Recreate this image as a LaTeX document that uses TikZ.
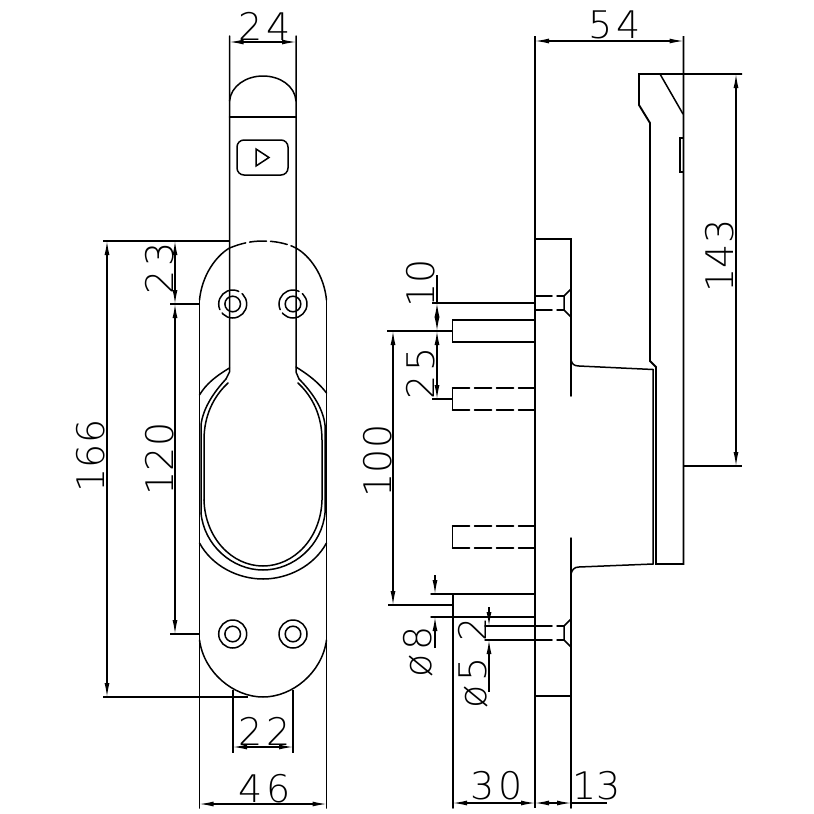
\documentclass[tikz,border=0pt]{standalone}
\usepackage{fontspec}
\setmainfont[LetterSpace=10]{DejaVu Sans ExtraLight}
\usetikzlibrary{arrows.meta}
\tikzset{%
  part/.style    = {line width=1.5pt, line cap=round},%
  thick part/.style = {line width=1.9pt},%
  hidden/.style  = {part, dash pattern=on 17pt off 5pt},%
  dim/.style     = {line width=1.2pt, {Latex[length=14pt,width=5pt]}-{Latex[length=14pt,width=5pt]}},%
  dimout/.style  = {line width=1.2pt, -{Latex[length=14pt,width=5pt]}},%
  ext/.style     = {line width=1.2pt},%
  size/.style    = {font=\fontsize{38}{38}\selectfont, inner sep=0pt},%
  vsize/.style   = {size, rotate=90},%
  tsize/.style   = {inner sep=0pt, font=\fontsize{38}{38}\selectfont\addfontfeature{LetterSpace=0}},%
  vtsize/.style  = {tsize, rotate=90}%
}
\begin{document}
\begin{tikzpicture}[x=1pt,y=-1pt]
	\useasboundingbox (0,0) rectangle (814,814);
	% front view: handle strip
	\draw[part] (229.5,36) -- (229.5,372) -- (226,379);
	\draw[part] (296,36) -- (296,372) -- (299,379);
	\draw[part] (229.5,101) .. controls (231,86) and (246,76) .. (263,76) .. controls (280,76) and (295,86) .. (296,101);
	\draw[part] (229.5,117) -- (296,117);
	\draw[part,rounded corners=7pt] (237,140) rectangle (288,175);
	\draw[part] (256,149) -- (269,157.5) -- (256,166) -- cycle;
	% front view: plate
	\draw[part] (199.5,300) .. controls (202,275) and (216,256) .. (229.5,248);
	\draw[part] (296,248) .. controls (310,256) and (324,275) .. (326.5,300);
	\draw[part,dash pattern=on 17pt off 4pt] (229.5,248) .. controls (242,243) and (252,241) .. (263,241) .. controls (274,241) and (286,243) .. (296,248);
	\draw[part] (199.5,300) -- (199.5,808);
	\draw[part] (326.5,300) -- (326.5,808);
	\draw[part] (199.5,640) .. controls (204,673) and (234,697) .. (263,697) .. controls (292,697) and (322,673) .. (326.5,640);
	% front view: window
	\draw[part] (199.5,395) .. controls (206,384) and (216,376) .. (229.5,368);
	\draw[part] (326.5,393) .. controls (319,383) and (309,375) .. (296,367);
	\draw[part] (199.5,543) .. controls (212,566) and (238,579) .. (263,579) .. controls (288,579) and (314,566) .. (326.5,543);
	\draw[part] (201,513) .. controls (204,545) and (232,570) .. (263,570) .. controls (294,570) and (322,545) .. (325,513) -- (325,425) .. controls (323,408) and (312,392) .. (299,379);
	\draw[part] (201,513) -- (201,425) .. controls (203,408) and (214,392) .. (226,379);
	\draw[part] (204,500) .. controls (205,538) and (232,566) .. (263,566) .. controls (294,566) and (321,538) .. (322,500) -- (322,440) .. controls (322,415) and (312,396) .. (298,383);
	\draw[part] (204,500) -- (204,440) .. controls (204,415) and (214,396) .. (228,383);
	% front view: screw holes
	\foreach \hx in {232.7,293} {
		\draw[part] (\hx,634) circle (14);
		\draw[part] (\hx,634) circle (7.8);
		\draw[part,dash pattern=on 34pt off 4pt] (\hx,304) circle (14);
		\draw[part] (\hx,304) circle (7.8);
	}
	% side view: body
	\draw[thick part] (535,36) -- (535,808);
	\draw[part] (535,239) -- (571,239) -- (571,396);
	\draw[part] (571,538) -- (571,808);
	\draw[part] (535,696) -- (571,696);
	\draw[part] (571,360) .. controls (572,364) and (574,366) .. (579,366) -- (653,369.5) -- (653,564) -- (579,567) .. controls (574,567) and (572,570) .. (571,574);
	\draw[thick part] (683.5,36) -- (683.5,564) -- (656,564) -- (656,367) -- (650,361) -- (650,123) -- (639,105) -- (639,74) -- (742,74);
	\draw[part] (660,74) -- (683,114);
	\draw[part] (680,138) rectangle (683.5,172);
	% side view: studs and screws
	\draw[part] (535,320) -- (452.5,320) -- (452.5,342) -- (535,342);
	\foreach \sy in {388,526} {
		\draw[hidden] (452.5,\sy) -- (535,\sy);
		\draw[hidden] (452.5,\sy+22) -- (535,\sy+22);
		\draw[part] (452.5,\sy) -- (452.5,\sy+22);
	}
	\draw[part] (431,594) -- (535,594);
	\draw[part] (431,617) -- (535,617);
	\draw[part] (453,594) -- (453,808);
	\foreach \sy in {296,626} {
		\draw[hidden] (535,\sy) -- (564,\sy);
		\draw[hidden] (535,\sy+14) -- (564,\sy+14);
		\draw[part] (571,\sy-7) -- (564,\sy) -- (564,\sy+14) -- (571,\sy+21);
	}
	\draw[part] (485,626) -- (535,626);
	\draw[part] (485,640) -- (535,640);
	% extension lines
	\draw[ext] (432,303) -- (535,303);
	\draw[ext] (103,241) -- (229.5,241);
	\draw[ext] (103,697) -- (248,697);
	\draw[ext] (170,304) -- (199.5,304);
	\draw[ext] (170,634) -- (199.5,634);
	\draw[ext] (233,690) -- (233,753);
	\draw[ext] (293,690) -- (293,753);
	\draw[ext] (387,331) -- (452.5,331);
	\draw[ext] (432,399) -- (452.5,399);
	\draw[ext] (388,605) -- (453,605);
	\draw[ext] (684,466) -- (742,466);
	% dimensions
	\draw[dim] (229.5,42) -- (296,42);
	\draw[dim] (199.5,804) -- (326.5,804);
	\draw[dim] (233,747) -- (293,747);
	\draw[dim] (107,241) -- (107,697);
	\draw[dim] (175,241) -- (175,304);
	\draw[dim] (175,304) -- (175,634);
	\draw[dim] (393,331) -- (393,605);
	\draw[dim] (437,303) -- (437,331);
	\draw[dim] (437,331) -- (437,399);
	\draw[ext] (437,275) -- (437,303);
	\draw[dim] (736,74) -- (736,466);
	\draw[dim] (535,41) -- (683.5,41);
	\draw[dim] (453,803) -- (535,803);
	\draw[dim] (535,803) -- (571,803);
	\draw[ext] (571,803) -- (607,803);
	\draw[dimout] (435,575) -- (435,594);
	\draw[dimout] (435,648) -- (435,617);
	\draw[dimout] (489,607) -- (489,626);
	\draw[dimout] (489,692) -- (489,640);
	% labels
	\node[size] (w24) at (265,26) {24};
	\node[size] (w46) at (265,789) {46};
	\node[size] (w22) at (265,731) {22};
	\node[size] (w54) at (615,25) {54};
	\node[size] (w30) at (497,786) {30};
	\node[tsize] (w13) at (597,786) {13};
	\node[vtsize] (h166) at (91,456) {166};
	\node[vsize] (h23) at (160,268) {23};
	\node[vtsize] (h120) at (160,459) {120};
	\node[vtsize] (h10) at (421,283) {10};
	\node[vsize] (h25) at (421,373) {25};
	\node[vtsize] (h100) at (378,461) {100};
	\node[vtsize] (h143) at (720,256) {143};
	\node[vsize] (d8) at (418,652) {ø8};
	\node[vsize] (d52) at (473,663) {ø5 2};
\end{tikzpicture}
\end{document}
